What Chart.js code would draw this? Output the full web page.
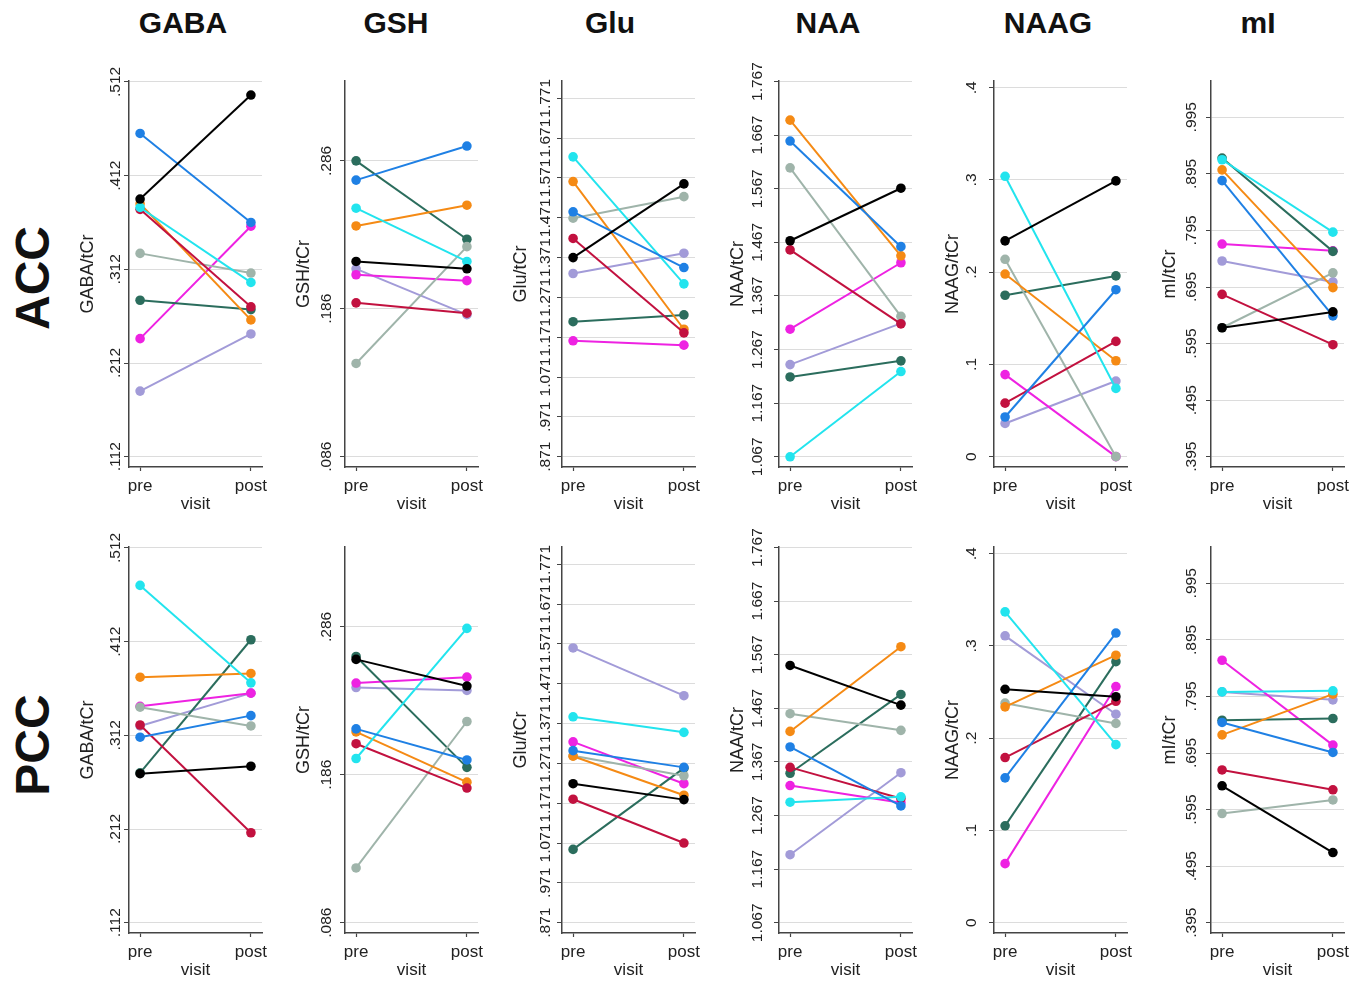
<!DOCTYPE html>
<html>
<head>
<meta charset="utf-8">
<script src="https://cdn.jsdelivr.net/npm/chart.js@4.4.0/dist/chart.umd.min.js"></script>
<style>
  body { margin: 0; background: #fff; }
  #page { position: relative; width: 1365px; height: 984px; overflow: hidden; background: #fff;
          font-family: "Liberation Sans", Arial, sans-serif; color: #111; }
  .panel { position: absolute; width: 200px; height: 460px; }
  .coltitle { position: absolute; top: 8px; width: 200px; margin-left: -100px; text-align: center;
              font-weight: bold; font-size: 30px; line-height: 30px; }
  .rowlabel { position: absolute; font-weight: bold; font-size: 48px; line-height: 48px;
              transform: translate(-50%, -50%) rotate(-90deg); white-space: nowrap; }
</style>
</head>
<body>
<div id="page"></div>
<script>
const visits = ['pre', 'post'];
const metabolites = ['GABA', 'GSH', 'Glu', 'NAA', 'NAAG', 'mI'];
const regions = ['ACC', 'PCC'];

// subjects: black, blue, cyan, crimson, orange, grey, teal, magenta, lavender
const accGabaPre  = [0.387, 0.457, 0.378, 0.376, 0.382, 0.329, 0.279, 0.238, 0.182];
const accGabaPost = [0.498, 0.362, 0.298, 0.272, 0.258, 0.308, 0.269, 0.358, 0.243];
const accGshPre   = [0.218, 0.273, 0.254, 0.190, 0.242, 0.149, 0.286, 0.209, 0.213];
const accGshPost  = [0.213, 0.296, 0.218, 0.183, 0.256, 0.228, 0.233, 0.205, 0.182];
const accGluPre   = [1.371, 1.486, 1.624, 1.419, 1.562, 1.470, 1.210, 1.162, 1.331];
const accGluPost  = [1.556, 1.346, 1.305, 1.182, 1.191, 1.524, 1.227, 1.151, 1.382];
const accNaaPre   = [1.470, 1.656, 1.067, 1.453, 1.695, 1.606, 1.216, 1.305, 1.239];
const accNaaPost  = [1.568, 1.459, 1.226, 1.315, 1.442, 1.329, 1.246, 1.429, 1.316];
const accNaagPre  = [0.234, 0.043, 0.304, 0.058, 0.198, 0.214, 0.175, 0.089, 0.036];
const accNaagPost = [0.299, 0.181, 0.074, 0.125, 0.104, 0.000, 0.196, 0.000, 0.082];
const accMiPre    = [0.623, 0.883, 0.920, 0.682, 0.902, 0.623, 0.923, 0.771, 0.741];
const accMiPost   = [0.651, 0.644, 0.792, 0.593, 0.694, 0.720, 0.758, 0.759, 0.704];

const pccGabaPre  = [0.271, 0.310, 0.472, 0.323, 0.374, 0.342, 0.272, 0.343, 0.322];
const pccGabaPost = [0.279, 0.333, 0.368, 0.208, 0.378, 0.322, 0.414, 0.357, 0.357];
const pccGshPre   = [0.264, 0.217, 0.197, 0.207, 0.215, 0.123, 0.266, 0.248, 0.245];
const pccGshPost  = [0.246, 0.196, 0.285, 0.177, 0.181, 0.222, 0.191, 0.252, 0.243];
const pccGluPre   = [1.220, 1.303, 1.388, 1.181, 1.289, 1.290, 1.055, 1.325, 1.561];
const pccGluPost  = [1.180, 1.261, 1.349, 1.071, 1.191, 1.240, 1.259, 1.220, 1.441];
const pccNaaPre   = [1.547, 1.395, 1.292, 1.357, 1.424, 1.457, 1.346, 1.323, 1.194];
const pccNaaPost  = [1.473, 1.285, 1.302, 1.299, 1.582, 1.426, 1.493, 1.291, 1.347];
const pccNaagPre  = [0.253, 0.157, 0.337, 0.179, 0.234, 0.238, 0.105, 0.064, 0.311];
const pccNaagPost = [0.245, 0.314, 0.193, 0.240, 0.290, 0.216, 0.283, 0.256, 0.226];
const pccMiPre    = [0.637, 0.749, 0.803, 0.665, 0.727, 0.588, 0.753, 0.859, 0.803];
const pccMiPost   = [0.519, 0.696, 0.805, 0.630, 0.799, 0.612, 0.756, 0.709, 0.789];

// y tick values per metabolite
const gabaTicks = [0.112, 0.212, 0.312, 0.412, 0.512];
const gshTicks  = [0.086, 0.186, 0.286];
const gluTicks  = [0.871, 0.971, 1.071, 1.171, 1.271, 1.371, 1.471, 1.571, 1.671, 1.771];
const naaTicks  = [1.067, 1.167, 1.267, 1.367, 1.467, 1.567, 1.667, 1.767];
const naagTicks = [0, 0.1, 0.2, 0.3, 0.4];
const miTicks   = [0.395, 0.495, 0.595, 0.695, 0.795, 0.895, 0.995];

const series = {
  ACC: [[accGabaPre, accGabaPost], [accGshPre, accGshPost], [accGluPre, accGluPost],
        [accNaaPre, accNaaPost], [accNaagPre, accNaagPost], [accMiPre, accMiPost]],
  PCC: [[pccGabaPre, pccGabaPost], [pccGshPre, pccGshPost], [pccGluPre, pccGluPost],
        [pccNaaPre, pccNaaPost], [pccNaagPre, pccNaagPost], [pccMiPre, pccMiPost]]
};

const subjectColors = ['#000000', '#1f80e4', '#22e4ee', '#c2113f', '#f58a14',
                       '#9fb4aa', '#2b6d5d', '#ee22e2', '#a29bd8'];

// axis ranges and label gap (distance from axis to label centre)
const axisSetup = [
  { ticks: gabaTicks, min: 0.101, max: 0.513, gap: 13 },
  { ticks: gshTicks,  min: 0.079, max: 0.340, gap: 18 },
  { ticks: gluTicks,  min: 0.845, max: 1.8145, gap: 16 },
  { ticks: naaTicks,  min: 1.048, max: 1.768, gap: 21 },
  { ticks: naagTicks, min: -0.0112, max: 0.4073, gap: 22 },
  { ticks: miTicks,   min: 0.3768, max: 1.0592, gap: 19 }
];
const colAxisX = [129, 345, 562, 779, 994, 1211];
const colTitleX = [183, 396, 610, 828, 1048, 1258];
const rowTop = [81, 547];
const rowLabelY = [278, 745];
const TOP_PAD = 21;

const FAMILY = '"Liberation Sans", Arial, sans-serif';
const TICK_FONT = 15.5;
const page = document.getElementById('page');
const measure = document.createElement('canvas').getContext('2d');
measure.font = TICK_FONT + 'px ' + FAMILY;

function tickText(v) {
  return v === 0 ? '0' : String(v).replace(/^0\./, '.');
}

metabolites.forEach((met, c) => {
  const t = document.createElement('div');
  t.className = 'coltitle';
  t.style.left = colTitleX[c] + 'px';
  t.textContent = met;
  page.appendChild(t);
});
regions.forEach((reg, r) => {
  const t = document.createElement('div');
  t.className = 'rowlabel';
  t.style.left = '33px';
  t.style.top = rowLabelY[r] + 'px';
  t.textContent = reg;
  page.appendChild(t);
});

regions.forEach((reg, r) => {
  metabolites.forEach((met, c) => {
    const ax = axisSetup[c];
    const pre = series[reg][c][0];
    const post = series[reg][c][1];
    const widest = Math.max(...ax.ticks.map(v => measure.measureText(tickText(v)).width));

    const box = document.createElement('div');
    box.className = 'panel';
    box.style.left = (colAxisX[c] - 55) + 'px';
    box.style.top = (rowTop[r] - TOP_PAD) + 'px';
    const cv = document.createElement('canvas');
    box.appendChild(cv);
    page.appendChild(box);

    new Chart(cv, {
      type: 'line',
      data: {
        datasets: pre.map((p, i) => ({
          data: [{ x: 0, y: p }, { x: 1, y: post[i] }],
          borderColor: subjectColors[i],
          backgroundColor: subjectColors[i],
          borderWidth: 2,
          pointRadius: 4.8,
          pointBorderWidth: 0,
          pointHoverRadius: 4.8
        }))
      },
      options: {
        responsive: true,
        maintainAspectRatio: false,
        animation: false,
        events: [],
        layout: { padding: { left: 0, right: 12, top: TOP_PAD, bottom: 3 } },
        plugins: { legend: { display: false }, tooltip: { enabled: false } },
        scales: {
          x: {
            type: 'linear', min: -0.1, max: 1.1,
            afterBuildTicks: s => { s.ticks = visits.map((v, i) => ({ value: i })); },
            afterFit: s => { s.height = 50; },
            grid: { drawOnChartArea: false, drawTicks: true, tickLength: 4, tickColor: '#444', tickWidth: 1.2 },
            border: { color: '#444', width: 1.5 },
            ticks: { autoSkip: false, maxRotation: 0, padding: 5, color: '#222',
                     font: { size: 17, family: FAMILY },
                     callback: (v, i) => visits[i] },
            title: { display: true, text: 'visit', color: '#222',
                     font: { size: 17, family: FAMILY }, padding: { top: 0, bottom: 2 } }
          },
          y: {
            min: ax.min, max: ax.max,
            afterBuildTicks: s => { s.ticks = ax.ticks.map(v => ({ value: v })); },
            afterFit: s => { s.width = 55; },
            grid: { color: '#dcdcdc', lineWidth: 1, drawTicks: true, tickLength: 5, tickColor: '#444' },
            border: { color: '#444', width: 1.5 },
            ticks: { autoSkip: false, minRotation: 90, maxRotation: 90, crossAlign: 'center',
                     padding: ax.gap - 5 - widest / 2, color: '#222',
                     font: { size: TICK_FONT, family: FAMILY },
                     callback: (v, i) => tickText(ax.ticks[i]) },
            title: { display: true, text: met + '/tCr', color: '#222',
                     font: { size: 18, family: FAMILY }, padding: { top: 3.2, bottom: 0 } }
          }
        }
      }
    });
  });
});
</script>
</body>
</html>
